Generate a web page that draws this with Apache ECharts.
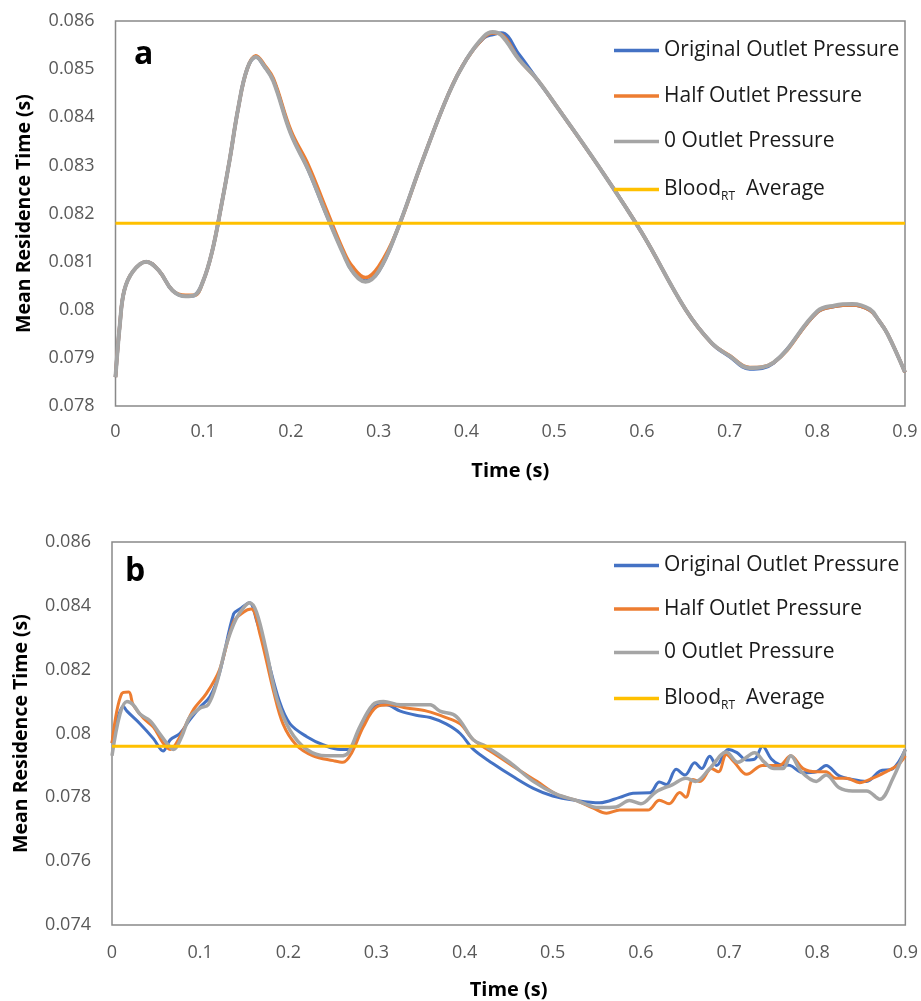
<!DOCTYPE html>
<html><head><meta charset="utf-8">
<script src="https://cdn.jsdelivr.net/npm/echarts@6/dist/echarts.min.js"></script>
<style>html,body{margin:0;padding:0;background:#fff}#c{width:921px;height:1001px}</style>
</head><body><div id="c"></div>
<script>
// ---- Data ----
const seriesNames = ['Original Outlet Pressure','Half Outlet Pressure','0 Outlet Pressure','Blood_RT Average'];
const xTicks = [0,0.1,0.2,0.3,0.4,0.5,0.6,0.7,0.8,0.9];

// Panel a
const topTime = [0,0.005,0.01,0.02,0.035,0.05,0.065,0.08,0.09,0.1,0.11,0.12,0.13,0.14,0.15,0.16,0.17,0.18,0.2,0.22,0.24,0.26,0.27,0.285,0.3,0.32,0.35,0.38,0.4,0.42,0.43,0.44,0.46,0.48,0.5,0.55,0.6,0.65,0.68,0.7,0.723,0.75,0.8,0.82,0.84,0.86,0.87,0.88,0.9];
const topOriginal = [0.0786,0.0797,0.0804,0.0808,0.0810,0.0808,0.0804,0.08028,0.0803,0.0806,0.0812,0.0821,0.0831,0.0842,0.0850,0.08525,0.08505,0.08477,0.08367,0.0829,0.0820,0.08117,0.0808,0.0806,0.0808,0.0816,0.0831,0.0845,0.0852,0.08565,0.08572,0.08575,0.0853,0.0848,0.0843,0.0830,0.0816,0.0800,0.0793,0.07903,0.07877,0.07889,0.07995,0.08007,0.0801,0.07999,0.07978,0.0795,0.0787];
const topHalf     = [0.0786,0.0797,0.0804,0.0808,0.0810,0.0808,0.0804,0.08030,0.0803,0.0806,0.0812,0.0821,0.0831,0.0842,0.0850,0.08528,0.08508,0.08480,0.08372,0.0830,0.0821,0.08122,0.0809,0.08067,0.0809,0.0816,0.0831,0.0845,0.0852,0.08566,0.08575,0.08572,0.0852,0.0848,0.0843,0.0830,0.0816,0.0800,0.0793,0.07905,0.07880,0.07890,0.07995,0.08007,0.0801,0.07999,0.07978,0.0795,0.0787];
const topZero     = [0.0786,0.0797,0.0804,0.0808,0.0810,0.0808,0.0804,0.08028,0.0803,0.0806,0.0812,0.0821,0.0831,0.0842,0.0850,0.08525,0.08505,0.08475,0.08365,0.0829,0.0820,0.08115,0.0808,0.08058,0.0808,0.0816,0.0831,0.0845,0.0852,0.08568,0.08577,0.08570,0.0852,0.0848,0.0843,0.0830,0.0816,0.0800,0.0793,0.07904,0.07879,0.07890,0.07997,0.08009,0.08012,0.08001,0.07978,0.0795,0.0787];
const topAverage = 0.0818;

// Panel b  ([time, value] pairs)
const bOriginal = [[0,0.0797],[0.013,0.08085],[0.017,0.0807],[0.032,0.0803],[0.047,0.07984],[0.058,0.07945],[0.066,0.0798],[0.077,0.0800],[0.088,0.08042],[0.1,0.08083],[0.111,0.08115],[0.122,0.0819],[0.138,0.08375],[0.145,0.0839],[0.156,0.0841],[0.164,0.08354],[0.175,0.0825],[0.19,0.0810],[0.202,0.08030],[0.221,0.0799],[0.24,0.07964],[0.259,0.0795],[0.268,0.0795],[0.281,0.0801],[0.293,0.0807],[0.304,0.0809],[0.311,0.0809],[0.327,0.0807],[0.345,0.08057],[0.361,0.0805],[0.379,0.0803],[0.395,0.0800],[0.41,0.0795],[0.432,0.07906],[0.455,0.07865],[0.478,0.07828],[0.5,0.07804],[0.527,0.0779],[0.553,0.07783],[0.576,0.0780],[0.591,0.07813],[0.61,0.07814],[0.621,0.07848],[0.629,0.0784],[0.64,0.07888],[0.65,0.0787],[0.661,0.07908],[0.669,0.0789],[0.678,0.07929],[0.686,0.0790],[0.699,0.0795],[0.709,0.0794],[0.72,0.07917],[0.729,0.0792],[0.738,0.0796],[0.748,0.0792],[0.757,0.07903],[0.769,0.0790],[0.784,0.07877],[0.799,0.0788],[0.81,0.0790],[0.825,0.07867],[0.84,0.07856],[0.856,0.0785],[0.871,0.07882],[0.886,0.0789],[0.9,0.0795]];
const bHalf = [[0,0.0797],[0.011,0.08125],[0.019,0.0813],[0.024,0.0809],[0.036,0.08047],[0.047,0.0802],[0.058,0.0797],[0.066,0.0795],[0.077,0.0799],[0.092,0.08073],[0.107,0.08125],[0.122,0.0820],[0.138,0.0835],[0.149,0.0838],[0.158,0.0839],[0.168,0.0831],[0.183,0.08135],[0.194,0.0803],[0.209,0.07964],[0.228,0.0793],[0.251,0.07915],[0.262,0.0791],[0.272,0.0794],[0.285,0.0802],[0.3,0.08083],[0.315,0.0809],[0.334,0.0808],[0.357,0.0807],[0.379,0.0805],[0.395,0.0803],[0.41,0.0798],[0.432,0.0794],[0.459,0.0789],[0.482,0.0785],[0.504,0.0781],[0.527,0.0779],[0.546,0.07766],[0.561,0.0775],[0.576,0.0776],[0.591,0.0776],[0.608,0.0776],[0.621,0.07791],[0.632,0.0778],[0.644,0.07815],[0.651,0.0780],[0.659,0.07856],[0.667,0.0785],[0.68,0.0789],[0.688,0.0788],[0.697,0.07934],[0.706,0.0791],[0.72,0.07872],[0.738,0.0790],[0.757,0.0790],[0.77,0.0793],[0.784,0.0789],[0.799,0.0788],[0.81,0.0788],[0.821,0.0786],[0.833,0.0786],[0.848,0.07846],[0.863,0.0786],[0.878,0.0788],[0.891,0.0790],[0.9,0.0793]];
const bZero = [[0,0.0793],[0.009,0.0806],[0.017,0.0810],[0.024,0.0809],[0.032,0.0806],[0.043,0.0804],[0.054,0.0800],[0.062,0.0797],[0.07,0.0795],[0.079,0.0799],[0.088,0.0805],[0.1,0.0808],[0.109,0.0809],[0.119,0.0816],[0.13,0.0828],[0.141,0.0836],[0.151,0.0840],[0.156,0.0841],[0.164,0.0838],[0.175,0.0826],[0.187,0.0811],[0.202,0.0801],[0.221,0.0795],[0.243,0.0793],[0.259,0.0793],[0.268,0.0794],[0.281,0.0802],[0.296,0.0809],[0.308,0.0810],[0.327,0.0809],[0.345,0.0809],[0.361,0.0809],[0.372,0.0807],[0.387,0.0806],[0.395,0.0804],[0.41,0.0798],[0.424,0.0796],[0.451,0.0791],[0.478,0.0785],[0.504,0.0781],[0.527,0.0779],[0.546,0.0777],[0.553,0.07768],[0.572,0.0777],[0.587,0.0779],[0.6,0.0778],[0.617,0.07817],[0.636,0.0784],[0.651,0.0786],[0.662,0.0785],[0.678,0.0789],[0.697,0.07942],[0.71,0.0791],[0.729,0.0794],[0.74,0.0791],[0.751,0.0789],[0.761,0.0789],[0.77,0.0793],[0.782,0.0788],[0.799,0.0785],[0.81,0.0787],[0.825,0.0783],[0.84,0.0782],[0.856,0.0782],[0.871,0.07794],[0.886,0.0786],[0.9,0.0795]];
const bottomAverage = 0.0796;

// ---- Styles ----
const colors = ['#4472C4','#ED7D31','#A5A5A5','#FFC000'];
const FONT = '"Open Sans", "Noto Sans", sans-serif';
const fmtX = v => String(Math.round(v*10)/10);
const fmtY = v => String(parseFloat(v.toFixed(3)));

function xAxis(gi, margin, gap){
  return {type:'value', gridIndex:gi, min:0, max:0.9, interval:0.1,
    name:'Time (s)', nameLocation:'middle', nameGap:gap,
    nameTextStyle:{fontFamily:FONT, fontWeight:'bold', fontSize:20, color:'#000'},
    axisLine:{show:false}, axisTick:{show:false}, splitLine:{show:false},
    axisLabel:{fontFamily:FONT, fontSize:18, color:'#595959', margin:margin, formatter:fmtX}};
}
function yAxis(gi,min,max,interval,gap){
  return {type:'value', gridIndex:gi, min:min, max:max, interval:interval,
    name:'Mean Residence Time (s)', nameLocation:'middle', nameGap:gap, nameRotate:90,
    nameTextStyle:{fontFamily:FONT, fontWeight:'bold', fontSize:19.5, color:'#000'},
    axisLine:{show:false}, axisTick:{show:false}, splitLine:{show:false},
    axisLabel:{fontFamily:FONT, fontSize:18, color:'#595959', margin:21, formatter:fmtY}};
}
function lineSeries(name, data, xi, color, width, smooth){
  return {type:'line', name:name, xAxisIndex:xi, yAxisIndex:xi, data:data, symbol:'none',
    smooth:smooth, lineStyle:{color:color, width:width}, itemStyle:{color:color}, z:2};
}
const legendRich = {
  m:{fontFamily:FONT, fontSize:21, color:'#1a1a1a', lineHeight:24},
  s:{fontFamily:FONT, fontSize:12, color:'#1a1a1a', lineHeight:10, padding:[14,0,0,0]}
};
function legendFmt(name){
  if (name.indexOf('Blood')===0) return '{m|Blood}{s|RT}{m|  Average}';
  return '{m|'+name+'}';
}
function legend(top, gap){
  return {data:seriesNames, left:609, top:top, orient:'vertical', itemWidth:45, itemHeight:3.5,
    icon:'rect', itemGap:gap, formatter:legendFmt, textStyle:{rich:legendRich},
    selectedMode:false};
}

const zip = (xs, ys) => xs.map((x,i)=>[x, ys[i]]);

const option = {
  animation:false,
  backgroundColor:'#fff',
  grid:[
    {left:115.5, top:21, right:16, height:385, show:true, borderColor:'#898989', borderWidth:1.5},
    {left:112, top:542, right:15, height:384, show:true, borderColor:'#898989', borderWidth:1.5}
  ],
  xAxis:[xAxis(0,17,55), xAxis(1,19,55)],
  yAxis:[yAxis(0,0.078,0.086,0.001,81), yAxis(1,0.074,0.086,0.002,81)],
  legend:[legend(35,24.5), legend(550,22.5)],
  graphic:[
    {type:'text', left:134, top:39, style:{text:'a', font:'bold 32px '+FONT, fill:'#000'}},
    {type:'text', left:125, top:556, style:{text:'b', font:'bold 32px '+FONT, fill:'#000'}}
  ],
  series:[
    lineSeries(seriesNames[0], zip(topTime, topOriginal), 0, colors[0], 3.5, 0.4),
    lineSeries(seriesNames[1], zip(topTime, topHalf), 0, colors[1], 3.5, 0.4),
    lineSeries(seriesNames[2], zip(topTime, topZero), 0, colors[2], 4, 0.4),
    lineSeries(seriesNames[3], [[0,topAverage],[0.9,topAverage]], 0, colors[3], 3, false),
    lineSeries(seriesNames[0], bOriginal, 1, colors[0], 3, 0.35),
    lineSeries(seriesNames[1], bHalf, 1, colors[1], 3, 0.35),
    lineSeries(seriesNames[2], bZero, 1, colors[2], 3.5, 0.35),
    lineSeries(seriesNames[3], [[0,bottomAverage],[0.9,bottomAverage]], 1, colors[3], 3, false)
  ]
};
const chart = echarts.init(document.getElementById('c'), null, {renderer:'canvas'});
chart.setOption(option);
</script>
</body></html>
